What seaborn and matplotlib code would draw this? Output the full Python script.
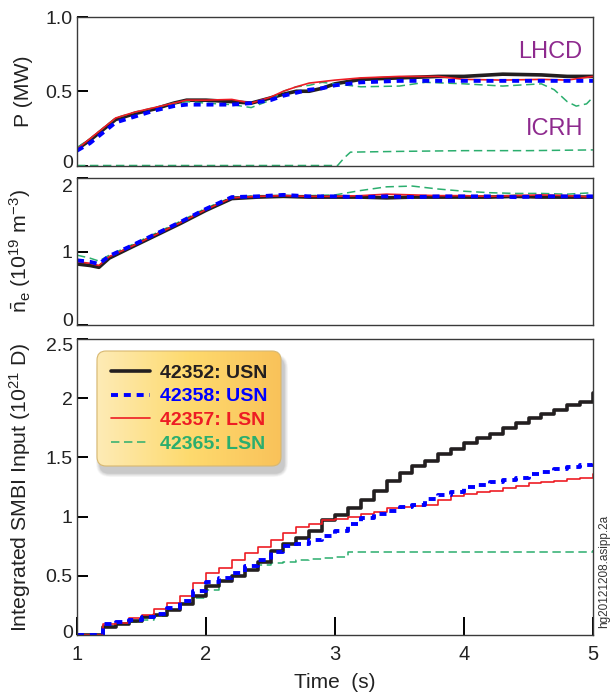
import numpy as np
import pandas as pd
import matplotlib
matplotlib.use('Agg')
import matplotlib.pyplot as plt
import matplotlib.transforms as mtransforms
import seaborn as sns
from matplotlib.patches import FancyBboxPatch
from matplotlib.colors import LinearSegmentedColormap

sns.set_style('ticks')
plt.rcParams['font.family'] = ['Liberation Sans', 'DejaVu Sans']
plt.rcParams['mathtext.fontset'] = 'custom'
plt.rcParams['mathtext.rm'] = 'Liberation Sans'
plt.rcParams['mathtext.it'] = 'Liberation Sans:italic'
plt.rcParams['mathtext.bf'] = 'Liberation Sans:bold'

# ---------------- data ----------------
shots = ['42352: USN', '42358: USN', '42357: LSN', '42365: LSN']
colors = ['#231F20', '#0000FF', '#ED1C24', '#2BAE6E']

# Panel 1: LHCD power (MW)
t_p = [1.0, 1.1, 1.2, 1.3, 1.45, 1.6, 1.75, 1.85, 2.0, 2.2, 2.35, 2.5, 2.6, 2.7, 2.8,
       2.9, 3.0, 3.2, 3.5, 3.8, 4.0, 4.3, 4.6, 4.8, 5.0]
p_42352 = [0.11, 0.17, 0.24, 0.31, 0.35, 0.38, 0.42, 0.44, 0.44, 0.43, 0.42, 0.455, 0.48,
           0.50, 0.50, 0.52, 0.55, 0.58, 0.59, 0.60, 0.60, 0.615, 0.61, 0.60, 0.60]
p_42358 = [0.10, 0.15, 0.22, 0.29, 0.33, 0.37, 0.40, 0.41, 0.41, 0.41, 0.42, 0.44, 0.47,
           0.49, 0.51, 0.52, 0.54, 0.56, 0.57, 0.57, 0.57, 0.57, 0.57, 0.57, 0.57]
p_42357 = [0.11, 0.18, 0.25, 0.32, 0.36, 0.39, 0.42, 0.44, 0.44, 0.445, 0.42, 0.46, 0.50,
           0.53, 0.555, 0.565, 0.575, 0.59, 0.60, 0.60, 0.58, 0.575, 0.58, 0.575, 0.60]
t_p_42365 = [1.0, 1.1, 1.2, 1.3, 1.45, 1.6, 1.75, 1.85, 2.0, 2.2, 2.35, 2.5, 2.6, 2.7,
             2.8, 2.9, 3.0, 3.2, 3.5, 3.7, 4.0, 4.3, 4.6, 4.7, 4.8, 4.87, 4.95, 5.0]
p_42365 = [0.12, 0.18, 0.25, 0.32, 0.36, 0.39, 0.42, 0.43, 0.42, 0.41, 0.39, 0.44, 0.50,
           0.53, 0.54, 0.56, 0.55, 0.53, 0.535, 0.56, 0.55, 0.535, 0.55, 0.51, 0.43,
           0.40, 0.415, 0.46]
# ICRH power of shot 42365
t_icrh = [1.0, 3.02, 3.07, 3.12, 3.5, 4.0, 4.5, 5.0]
icrh_42365 = [0.0, 0.0, 0.05, 0.09, 0.095, 0.10, 0.10, 0.105]

# Panel 2: line-averaged density (1e19 m^-3)
t_n = [1.0, 1.1, 1.17, 1.25, 1.4, 1.6, 1.8, 2.0, 2.2, 2.4, 2.6, 2.8, 3.0, 3.2, 3.4,
       3.6, 3.8, 4.0, 4.2, 4.4, 4.6, 4.8, 5.0]
n_42352 = [0.83, 0.81, 0.785, 0.91, 1.04, 1.21, 1.38, 1.56, 1.72, 1.74, 1.75, 1.74, 1.74,
           1.74, 1.73, 1.74, 1.74, 1.74, 1.74, 1.75, 1.74, 1.74, 1.74]
n_42358 = [0.88, 0.86, 0.83, 0.94, 1.06, 1.23, 1.40, 1.58, 1.74, 1.75, 1.77, 1.75, 1.75,
           1.74, 1.75, 1.74, 1.75, 1.75, 1.75, 1.74, 1.75, 1.75, 1.75]
n_42357 = [0.86, 0.84, 0.81, 0.93, 1.05, 1.22, 1.39, 1.57, 1.73, 1.75, 1.76, 1.75, 1.75,
           1.76, 1.78, 1.77, 1.76, 1.76, 1.75, 1.76, 1.77, 1.76, 1.74]
n_42365 = [0.95, 0.91, 0.87, 0.95, 1.07, 1.24, 1.41, 1.59, 1.74, 1.76, 1.76, 1.76, 1.77,
           1.83, 1.88, 1.89, 1.85, 1.82, 1.80, 1.79, 1.79, 1.78, 1.80]

# Panel 3: integrated SMBI input (1e21 D), staircase
t_s = [1.0, 1.2, 1.3, 1.4, 1.5, 1.6, 1.7, 1.8, 1.9, 2.0, 2.1, 2.2, 2.3, 2.4, 2.5, 2.6,
       2.7, 2.8, 2.9, 3.0, 3.1, 3.2, 3.3, 3.4, 3.5, 3.6, 3.7, 3.8, 3.9, 4.0, 4.1, 4.2,
       4.3, 4.4, 4.5, 4.6, 4.7, 4.8, 4.9, 5.0]
s_42352 = [0, 0.07, 0.09, 0.12, 0.15, 0.17, 0.21, 0.26, 0.33, 0.41, 0.46, 0.50, 0.55,
           0.62, 0.71, 0.77, 0.82, 0.88, 0.97, 1.01, 1.07, 1.14, 1.22, 1.30, 1.37, 1.43,
           1.47, 1.53, 1.57, 1.62, 1.66, 1.70, 1.75, 1.79, 1.83, 1.87, 1.90, 1.94, 1.97,
           2.04]
s_42358 = [0, 0.09, 0.11, 0.13, 0.15, 0.18, 0.23, 0.29, 0.37, 0.45, 0.48, 0.52, 0.58,
           0.63, 0.70, 0.75, 0.77, 0.80, 0.84, 0.88, 0.94, 0.99, 1.02, 1.05, 1.08, 1.10,
           1.15, 1.18, 1.21, 1.25, 1.27, 1.29, 1.31, 1.33, 1.36, 1.38, 1.40, 1.42, 1.44,
           1.46]
s_42357 = [0, 0.09, 0.10, 0.14, 0.17, 0.22, 0.27, 0.33, 0.44, 0.52, 0.57, 0.63, 0.69,
           0.74, 0.80, 0.86, 0.91, 0.94, 0.97, 0.98, 1.00, 1.02, 1.04, 1.07, 1.08, 1.09,
           1.10, 1.14, 1.17, 1.19, 1.21, 1.22, 1.24, 1.26, 1.28, 1.29, 1.30, 1.32, 1.33,
           1.36]
s_42365 = [0, 0.07, 0.09, 0.11, 0.13, 0.16, 0.21, 0.26, 0.31, 0.38, 0.46, 0.50, 0.55,
           0.59, 0.61, 0.62, 0.63, 0.64, 0.65, 0.66, 0.70, 0.70, 0.70, 0.70, 0.70, 0.70,
           0.70, 0.70, 0.70, 0.70, 0.70, 0.70, 0.70, 0.70, 0.70, 0.70, 0.70, 0.70, 0.70,
           0.72]

# ---------------- styles ----------------
styles = [dict(lw=2.6, ls='-'),
          dict(lw=2.8, ls=(0, (1.8, 1.5))),
          dict(lw=1.2, ls='-'),
          dict(lw=1.1, ls=(0, (5.5, 3.0)))]

W, H = 616, 696
fig = plt.figure(figsize=(W / 100, H / 100), dpi=100)

def rect(x0, x1, ytop, ybot):
    return [x0 / W, 1 - ybot / H, (x1 - x0) / W, (ybot - ytop) / H]

ax1 = fig.add_axes(rect(77, 593, 17, 165.5))
ax2 = fig.add_axes(rect(77, 593, 178, 325))
ax3 = fig.add_axes(rect(77, 593, 339, 635))

def draw(ax, t, v, i, **kw):
    sns.lineplot(x=t, y=v, ax=ax, color=colors[i], linewidth=styles[i]['lw'],
                 linestyle=styles[i]['ls'], estimator=None, legend=False, **kw)
    return ax.lines[-1]

# panel 1
draw(ax1, t_icrh, icrh_42365, 3)
draw(ax1, t_p, p_42352, 0)
draw(ax1, t_p_42365, p_42365, 3)
draw(ax1, t_p, p_42357, 2)
draw(ax1, t_p, p_42358, 1)
ax1.text(4.67, 0.765, 'LHCD', color='#8E2A8E', fontsize=17, ha='center', va='center')
ax1.text(4.70, 0.245, 'ICRH', color='#8E2A8E', fontsize=17, ha='center', va='center')

# panel 2
draw(ax2, t_n, n_42365, 3)
draw(ax2, t_n, n_42352, 0)
draw(ax2, t_n, n_42357, 2)
draw(ax2, t_n, n_42358, 1)

# panel 3
h_green = draw(ax3, t_s, s_42365, 3, drawstyle='steps-post')
h_black = draw(ax3, t_s, s_42352, 0, drawstyle='steps-post')
h_red = draw(ax3, t_s, s_42357, 2, drawstyle='steps-post')
h_blue = draw(ax3, t_s, s_42358, 1, drawstyle='steps-post')

# axes formatting
for ax in (ax1, ax2, ax3):
    ax.set_xlim(1, 5)
    for sp in ax.spines.values():
        sp.set_visible(True)
        sp.set_color('#3a3a3a')
        sp.set_linewidth(1.0)
    ax.tick_params(axis='y', direction='in', length=8, width=1.4, color='black',
                   labelsize=14, pad=3, labelcolor='#222222')
    ax.set_xlabel('')

ax1.set_ylim(0, 1.0)
ax1.set_yticks([0, 0.5, 1.0])
ax1.set_yticklabels(['0', '0.5', '1.0'])
ax2.set_ylim(0, 2.0)
ax2.set_yticks([0, 1, 2])
ax2.set_yticklabels(['0', '1', '2'])
ax3.set_ylim(0, 2.5)
ax3.set_yticks([0, 0.5, 1, 1.5, 2, 2.5])
ax3.set_yticklabels(['0', '0.5', '1', '1.5', '2', '2.5'])

for ax in (ax1, ax2):
    ax.tick_params(axis='x', length=0, labelbottom=False)
ax3.set_xticks([1, 2, 3, 4, 5])
ax3.set_xticklabels(['1', '2', '3', '4', '5'])
ax3.tick_params(axis='x', direction='in', length=13, width=1.4, color='black',
                labelsize=14.5, pad=7, labelcolor='#222222')
ax3.set_xlabel('Time  (s)', fontsize=15, color='#222222', labelpad=7)

# shift edge tick labels inward like the reference
def shift(label, dy_px):
    label.set_transform(label.get_transform() +
                        mtransforms.ScaledTranslation(0, dy_px / 100, fig.dpi_scale_trans))

shift(ax1.get_yticklabels()[0], 4)
shift(ax2.get_yticklabels()[0], 5)
shift(ax2.get_yticklabels()[-1], -7)
shift(ax3.get_yticklabels()[0], 3)
shift(ax3.get_yticklabels()[-1], -6)

ax1.set_ylabel('P (MW)', fontsize=15.3, color='#222222')
ax2.set_ylabel(r'$\bar{\mathrm{n}}_\mathrm{e}$ (10$^{19}$ m$^{-3}$)', fontsize=15.3,
               color='#222222')
ax3.set_ylabel(r'Integrated SMBI Input (10$^{21}$ D)', fontsize=15.3, color='#222222')
for ax in (ax1, ax2, ax3):
    ax.yaxis.set_label_coords(-0.085, 0.5)

# ---------------- legend box with gradient ----------------
bx0, bx1, by0, by1 = 97, 281, 351, 466
bw, bh = bx1 - bx0, by1 - by0
m = 14
lax = fig.add_axes([(bx0 - m) / W, 1 - (by1 + m) / H, (bw + 2 * m) / W, (bh + 2 * m) / H])
lax.set_xlim(-m, bw + m)
lax.set_ylim(-m, bh + m)
lax.axis('off')
for k, a in enumerate([0.04, 0.05, 0.06, 0.07, 0.09]):
    grow = 5 - k
    sh = FancyBboxPatch((3 - grow * 0.8, -7 - grow * 0.8), bw + grow * 1.6, bh + grow * 1.6,
                        boxstyle='round,pad=0,rounding_size=%g' % (9 + grow),
                        facecolor='#444444', edgecolor='none', alpha=a, zorder=1)
    lax.add_patch(sh)
cmap = LinearSegmentedColormap.from_list('leg', ['#FDEBB6', '#FEDA6E', '#F9C25A'])
grad = np.linspace(0, 1, 256)[None, :].repeat(2, axis=0)
im = lax.imshow(grad, extent=(0, bw, 0, bh), cmap=cmap, aspect='auto', origin='lower',
                zorder=2)
clip = FancyBboxPatch((0, 0), bw, bh, boxstyle='round,pad=0,rounding_size=9',
                      transform=lax.transData)
im.set_clip_path(clip)
lax.add_patch(FancyBboxPatch((0, 0), bw, bh, boxstyle='round,pad=0,rounding_size=9',
                             facecolor='none', edgecolor='#D8B870', lw=0.8, zorder=3))
lax.set_xlim(-m, bw + m)
lax.set_ylim(-m, bh + m)
leg = lax.legend([h_black, h_blue, h_red, h_green], shots, loc='center',
                 frameon=False, handlelength=2.0, handletextpad=0.5, labelspacing=0.32,
                 prop={'weight': 'bold', 'size': 14}, labelcolor='linecolor',
                 borderaxespad=0)
leg.set_zorder(5)

fig.text(604 / W, 1 - 571 / H, 'hg20121208.asipp.2a', rotation=90, ha='center',
         va='center', fontsize=8.5, color='#333333')

fig.savefig('out.png', dpi=100)
